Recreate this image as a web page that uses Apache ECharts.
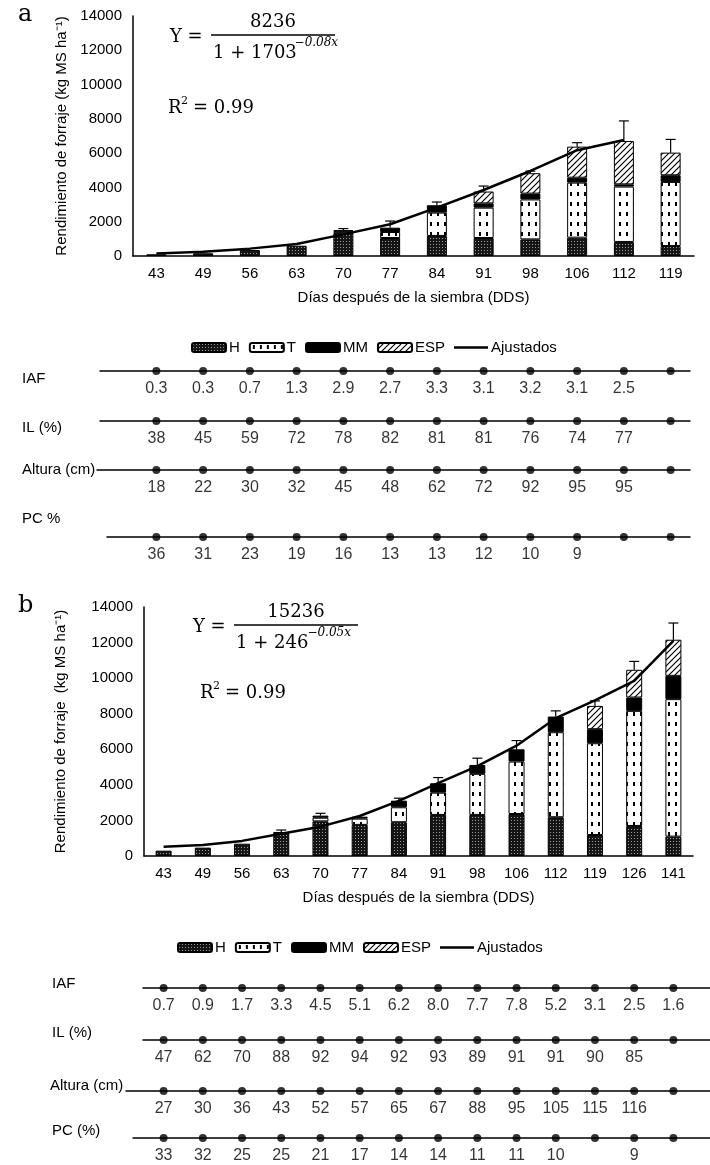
<!DOCTYPE html>
<html>
<head>
<meta charset="utf-8">
<script src="https://cdn.jsdelivr.net/npm/echarts@6/dist/echarts.min.js"></script>
<style>
  html, body { margin: 0; padding: 0; background: #fff; }
  #chart { width: 710px; height: 1165px; }
</style>
</head>
<body>
<div id="chart"></div>
<script>
// ---- panel a data ----
const catsA = ['43', '49', '56', '63', '70', '77', '84', '91', '98', '106', '112', '119']
const hA = [100, 160, 350, 600, 1350, 1050, 1170, 1050, 970, 1070, 820, 580]
const tA = [0, 0, 0, 0, 100, 350, 1360, 1770, 2330, 3210, 3230, 3740]
const mmA = [0, 0, 0, 0, 50, 250, 430, 250, 340, 290, 130, 390]
const espA = [0, 0, 0, 0, 0, 0, 0, 690, 1190, 1810, 2530, 1320]
const errA = [null, null, null, null, 1600, 2040, 3150, 4080, 4950, 6610, 7880, 6800]
const fitA = [150, 250, 430, 700, 1260, 1850, 2820, 3850, 4960, 6170, 6770, null]
const iafA = [0.3, 0.3, 0.7, 1.3, 2.9, 2.7, 3.3, 3.1, 3.2, 3.1, 2.5, null]
const ilA = [38, 45, 59, 72, 78, 82, 81, 81, 76, 74, 77, null]
const altA = [18, 22, 30, 32, 45, 48, 62, 72, 92, 95, 95, null]
const pcA = [36, 31, 23, 19, 16, 13, 13, 12, 10, 9, null, null]

// ---- panel b data ----
const catsB = ['43', '49', '56', '63', '70', '77', '84', '91', '98', '106', '112', '119', '126', '141']
const hB = [300, 470, 690, 1350, 1950, 1750, 1900, 2310, 2310, 2360, 2180, 1180, 1690, 1090]
const tB = [0, 0, 0, 0, 200, 350, 840, 1250, 2310, 2950, 4780, 5160, 6470, 7730]
const mmB = [0, 0, 0, 0, 120, 110, 370, 530, 500, 690, 880, 790, 750, 1310]
const espB = [0, 0, 0, 0, 0, 0, 0, 0, 0, 0, 0, 1310, 1560, 2030]
const errB = [null, null, null, 1460, 2400, null, 3250, 4410, 5500, 6490, 8160, 8720, 10940, 13100]
const fitB = [520, 620, 850, 1250, 1650, 2250, 3100, 4100, 5050, 6200, 7750, 8750, 9850, 12100]
const iafB = [0.7, 0.9, 1.7, 3.3, 4.5, 5.1, 6.2, 8.0, 7.7, 7.8, 5.2, 3.1, 2.5, 1.6]
const ilB = [47, 62, 70, 88, 92, 94, 92, 93, 89, 91, 91, 90, 85, null]
const altB = [27, 30, 36, 43, 52, 57, 65, 67, 88, 95, 105, 115, 116, null]
const pcB = [33, 32, 25, 25, 21, 17, 14, 14, 11, 11, 10, null, 9, null]

const legendNames = ['H', 'T', 'MM', 'ESP', 'Ajustados']

const SANS = "'Liberation Sans', Arial, sans-serif"
const NARROW = "'Liberation Sans Narrow', 'Liberation Sans', Arial, sans-serif"
const SERIF = "'DejaVu Serif', 'Liberation Serif', serif"

// fill patterns for the stacked segments
function pattern(w, h, draw) {
  const c = document.createElement('canvas')
  c.width = w
  c.height = h
  draw(c.getContext('2d'))
  return { image: c, repeat: 'repeat' }
}
const fillH = pattern(3, 3, ctx => {
  ctx.fillStyle = '#151515'
  ctx.fillRect(0, 0, 3, 3)
  ctx.fillStyle = '#9a9a9a'
  ctx.fillRect(1, 1, 1, 1)
})
const fillT = pattern(7, 10, ctx => {
  ctx.fillStyle = '#fff'
  ctx.fillRect(0, 0, 7, 10)
  ctx.fillStyle = '#000'
  ctx.fillRect(3, 2, 2, 4)
})
const fillESP = pattern(6, 6, ctx => {
  ctx.fillStyle = '#fff'
  ctx.fillRect(0, 0, 6, 6)
  ctx.strokeStyle = '#000'
  ctx.lineWidth = 1.2
  ctx.beginPath()
  ctx.moveTo(-1, 7); ctx.lineTo(7, -1)
  ctx.moveTo(-4, 4); ctx.lineTo(4, -4)
  ctx.moveTo(2, 10); ctx.lineTo(10, 2)
  ctx.stroke()
})

const option = {
  animation: false,
  backgroundColor: '#fff',
  grid: [],
  xAxis: [],
  yAxis: [],
  series: [],
  legend: [],
  graphic: []
}

function txt(x, y, text, font, align, extra) {
  option.graphic.push({
    type: 'text', x: x, y: y, silent: true,
    style: Object.assign({
      text: text, font: font, fill: '#000',
      align: align || 'left', textAlign: align || 'left',
      verticalAlign: 'middle', textVerticalAlign: 'middle'
    }, extra || {})
  })
}

function addPanel(p) {
  const gi = option.grid.length
  option.grid.push({ left: p.L.left, top: p.L.top, width: p.L.width, height: p.L.height })
  option.xAxis.push({
    gridIndex: gi, type: 'category', data: p.cats,
    axisLine: { lineStyle: { color: '#000', width: 1.5 } },
    axisTick: { show: false },
    axisLabel: { color: '#000', fontSize: 15, fontFamily: SANS, margin: 10 },
    name: 'Días después de la siembra (DDS)', nameLocation: 'middle', nameGap: 34,
    nameTextStyle: { color: '#000', fontSize: 15, fontFamily: SANS }
  })
  option.yAxis.push({
    gridIndex: gi, type: 'value', min: 0, max: 14000, interval: 2000,
    axisLine: { show: true, lineStyle: { color: '#000', width: 1.5 } },
    axisTick: { show: false },
    splitLine: { show: false },
    axisLabel: { color: '#000', fontSize: 15, fontFamily: SANS, margin: 11, formatter: v => String(v) },
    name: p.yName, nameLocation: 'middle', nameGap: p.yGap,
    nameTextStyle: { color: '#000', fontSize: 15, fontFamily: SANS }
  })

  const segs = [['H', p.h, fillH], ['T', p.t, fillT], ['MM', p.mm, '#000'], ['ESP', p.esp, fillESP]]
  segs.forEach(s => {
    option.series.push({
      type: 'bar', name: s[0], xAxisIndex: gi, yAxisIndex: gi, stack: 'st' + gi,
      barWidth: p.barW,
      data: s[1].map(v => (v > 0 ? v : null)),
      itemStyle: { color: s[2], borderColor: '#000', borderWidth: 1 },
      silent: true
    })
  })

  const totals = p.h.map((v, i) => v + p.t[i] + p.mm[i] + p.esp[i])
  option.series.push({
    type: 'custom', name: 'err', xAxisIndex: gi, yAxisIndex: gi, silent: true, z: 3,
    data: p.err.map((e, i) => [i, totals[i], e == null ? totals[i] : e]),
    renderItem: function (params, api) {
      const a = api.coord([api.value(0), api.value(1)])
      const b = api.coord([api.value(0), api.value(2)])
      if (Math.abs(a[1] - b[1]) < 1) return null
      const st = { stroke: '#000', lineWidth: 1.2 }
      return {
        type: 'group',
        children: [
          { type: 'line', shape: { x1: a[0], y1: a[1], x2: b[0], y2: b[1] }, style: st },
          { type: 'line', shape: { x1: b[0] - 5, y1: b[1], x2: b[0] + 5, y2: b[1] }, style: st }
        ]
      }
    }
  })

  option.series.push({
    type: 'line', name: 'Ajustados', xAxisIndex: gi, yAxisIndex: gi, z: 4,
    data: p.fit, symbol: 'none', connectNulls: false, silent: true,
    lineStyle: { color: '#000', width: 2.5 }, itemStyle: { color: '#000' }
  })

  option.legend.push({
    top: p.legendTop, left: p.legendLeft, selectedMode: false,
    data: legendNames.map(n => (n === 'Ajustados'
      ? { name: n, icon: 'path://M0,0L80,0L80,6L0,6Z' }
      : n)),
    itemWidth: 34, itemHeight: 9, itemGap: 9,
    textStyle: { color: '#000', fontSize: 15, fontFamily: NARROW, padding: [0, 0, 0, -2] }
  })

  // indicator rows under the chart
  const w = p.L.width / p.cats.length
  p.rows.forEach(r => {
    const ri = option.grid.length
    option.grid.push({ left: r.x0, width: r.x1 - r.x0, top: r.y - 1, height: 1 })
    option.xAxis.push({
      gridIndex: ri, type: 'value',
      min: (r.x0 - p.L.left) / w - 0.5, max: (r.x1 - p.L.left) / w - 0.5,
      axisLine: { onZero: false, lineStyle: { color: '#000', width: 1.5 } },
      axisTick: { show: false }, axisLabel: { show: false }, splitLine: { show: false }
    })
    option.yAxis.push({ gridIndex: ri, type: 'value', min: 0, max: 1, show: false })
    option.series.push({
      type: 'scatter', xAxisIndex: ri, yAxisIndex: ri, symbolSize: 8, silent: true,
      itemStyle: { color: '#000' },
      data: r.vals.map((v, i) => [i, 0, v == null ? '' : (r.dec ? v.toFixed(1) : String(v))]),
      label: {
        show: true, position: 'bottom', distance: 6,
        formatter: q => q.value[2],
        color: '#000', fontSize: 16, fontFamily: NARROW
      }
    })
    txt(r.lx, r.ly, r.label, '15px ' + NARROW)
  })
}

addPanel({
  cats: catsA, h: hA, t: tA, mm: mmA, esp: espA, err: errA, fit: fitA,
  L: { left: 133, top: 16, width: 561, height: 240 }, barW: 20,
  yName: 'Rendimiento de forraje (kg MS ha⁻¹)', yGap: 64,
  legendTop: 335, legendLeft: 186,
  rows: [
    { label: 'IAF', vals: iafA, dec: true, y: 371, x0: 100, x1: 690, lx: 22, ly: 379 },
    { label: 'IL (%)', vals: ilA, y: 421, x0: 100, x1: 690, lx: 22, ly: 428 },
    { label: 'Altura (cm)', vals: altA, y: 470, x0: 97, x1: 690, lx: 22, ly: 470 },
    { label: 'PC %', vals: pcA, y: 537, x0: 107, x1: 690, lx: 22, ly: 519 }
  ]
})

addPanel({
  cats: catsB, h: hB, t: tB, mm: mmB, esp: espB, err: errB, fit: fitB,
  L: { left: 144, top: 607, width: 549, height: 249 }, barW: 16,
  yName: 'Rendimiento de forraje  (kg MS ha⁻¹)', yGap: 76,
  legendTop: 935, legendLeft: 172,
  rows: [
    { label: 'IAF', vals: iafB, dec: true, y: 988, x0: 143, x1: 710, lx: 52, ly: 984 },
    { label: 'IL (%)', vals: ilB, y: 1040, x0: 143, x1: 710, lx: 52, ly: 1033 },
    { label: 'Altura (cm)', vals: altB, y: 1091, x0: 126, x1: 710, lx: 50, ly: 1086 },
    { label: 'PC (%)', vals: pcB, y: 1138, x0: 133, x1: 710, lx: 52, ly: 1131 }
  ]
})

// panel letters
txt(18, 15, 'a', '24px ' + SERIF)
txt(18, 606, 'b', '24px ' + SERIF)

// fitted equations
function equation(x, y, num, base, expo) {
  txt(x, y, 'Y =', '18px ' + SERIF)
  option.graphic.push({
    type: 'line', silent: true,
    shape: { x1: x + 41, y1: y - 2, x2: x + 165, y2: y - 2 },
    style: { stroke: '#000', lineWidth: 1.3 }
  })
  txt(x + 103, y - 15, num, '18px ' + SERIF, 'center')
  txt(x + 43, y + 16, base, '18px ' + SERIF)
  txt(x + 43 + base.length * 10.2, y + 6, expo, 'italic 12px ' + SERIF)
}
equation(170, 37, '8236', '1 + 1703', '−0.08x')
equation(193, 627, '15236', '1 + 246', '−0.05x')

function r2(x, y) {
  txt(x, y, 'R', '18px ' + SERIF)
  txt(x + 13, y - 7, '2', '11px ' + SERIF)
  txt(x + 25, y, '= 0.99', '18px ' + SERIF)
}
r2(168, 108)
r2(200, 693)

const chart = echarts.init(document.getElementById('chart'))
chart.setOption(option)
</script>
</body>
</html>
